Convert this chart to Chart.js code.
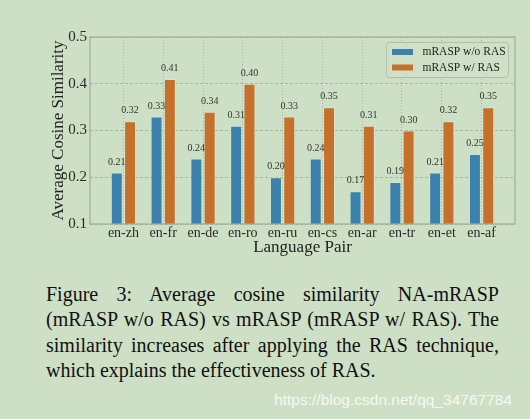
<!DOCTYPE html>
<html>
<head>
<meta charset="utf-8">
<script src="https://cdn.jsdelivr.net/npm/chart.js@4/dist/chart.umd.min.js"></script>
<style>
    html, body { margin: 0; padding: 0; }
    body {
        width: 530px; height: 419px; overflow: hidden;
        background: #cddfc4; position: relative;
    }
    #wrap { position: absolute; left: 0; top: 0; width: 530px; height: 262px; }
    #caption {
        position: absolute; left: 46px; top: 282px; width: 453px;
        font-family: 'Liberation Serif', 'Times New Roman', serif;
        font-size: 20px; line-height: 25.3px; color: #111;
        text-align: justify;
    }
    #watermark {
        position: absolute; left: 250px; width: 262px; top: 391px;
        text-align: right; line-height: 18px;
        font-family: 'Liberation Sans', Arial, sans-serif;
        font-size: 15.5px; color: rgba(255,255,255,0.8);
    }
</style>
</head>
<body>
<div id="wrap"><canvas id="chart" width="530" height="262"></canvas></div>
<div id="caption">Figure 3: Average cosine similarity NA-mRASP (mRASP w/o RAS) vs mRASP (mRASP w/ RAS). The similarity increases after applying the RAS technique, which explains the effectiveness of RAS.</div>
<div id="watermark">https://blog.csdn.net/qq_34767784</div>

<script>
// =========================================================
// Data
// =========================================================

const pairs  = ['en-zh', 'en-fr', 'en-de', 'en-ro', 'en-ru', 'en-cs', 'en-ar', 'en-tr', 'en-et', 'en-af'];
const woRas  = [0.21, 0.33, 0.24, 0.31, 0.20, 0.24, 0.17, 0.19, 0.21, 0.25];
const wRas   = [0.32, 0.41, 0.34, 0.40, 0.33, 0.35, 0.31, 0.30, 0.32, 0.35];
const yTicks = [0.1, 0.2, 0.3, 0.4, 0.5];

const SERIF  = "'Liberation Serif', 'Times New Roman', serif";
const BLUE   = '#3a81ab';
const ORANGE = '#c5712c';
const GRID   = '#a9b4a2';

// =========================================================
// Plugins: plot frame, value labels, legend box
// =========================================================

const frame = {
    id: 'frame',
    afterDraw(chart) {
        const { ctx, chartArea: a } = chart;
        ctx.save();
        ctx.strokeStyle = '#a3ae9c';
        ctx.lineWidth = 1.2;
        ctx.strokeRect(a.left, a.top, a.right - a.left, a.bottom - a.top);
        ctx.restore();
    }
};

const valueLabels = {
    id: 'valueLabels',
    afterDatasetsDraw(chart) {
        const ctx = chart.ctx;
        ctx.save();
        ctx.font = '10px ' + SERIF;
        ctx.fillStyle = '#333';
        ctx.textAlign = 'center';
        ctx.textBaseline = 'middle';
        chart.data.datasets.forEach((ds, di) => {
            chart.getDatasetMeta(di).data.forEach((bar, i) => {
                ctx.fillText(ds.data[i].y.toFixed(2), bar.x, bar.y - 10.5);
            });
        });
        ctx.restore();
    }
};

const legendBox = {
    id: 'legendBox',
    afterDraw(chart) {
        const { ctx, chartArea: a } = chart;
        const w = 122, h = 35;
        const x = a.right - 6.5 - w, y = a.top + 5.5;
        ctx.save();
        ctx.beginPath();
        ctx.roundRect(x, y, w, h, 3);
        ctx.fillStyle = 'rgba(208,224,199,0.85)';
        ctx.fill();
        ctx.strokeStyle = '#b3bfac';
        ctx.lineWidth = 1;
        ctx.stroke();

        ctx.font = '11.5px ' + SERIF;
        ctx.textBaseline = 'middle';
        chart.data.datasets.forEach((ds, i) => {
            const cy = y + 9.5 + i * 15.5;
            ctx.fillStyle = ds.backgroundColor;
            ctx.fillRect(x + 5.5, cy - 3, 21, 6);
            ctx.fillStyle = '#222';
            ctx.fillText(ds.label, x + 36, cy);
        });
        ctx.restore();
    }
};

// =========================================================
// Chart
// =========================================================

new Chart(document.getElementById('chart'), {
    type: 'bar',
    data: {
        datasets: [
            { label: 'mRASP w/o RAS', data: woRas.map((v, i) => ({ x: i, y: v })),
              backgroundColor: BLUE, borderColor: 'rgba(225,235,225,0.45)', borderWidth: 1 },
            { label: 'mRASP w/ RAS',  data: wRas.map((v, i) => ({ x: i, y: v })),
              backgroundColor: ORANGE, borderColor: 'rgba(225,235,225,0.45)', borderWidth: 1 },
        ]
    },
    options: {
        responsive: false,
        animation: false,
        layout: { padding: { left: 40, right: 15, top: 37, bottom: 0 } },
        categoryPercentage: 0.668,
        barPercentage: 0.9,
        plugins: { legend: { display: false }, tooltip: { enabled: false } },
        scales: {
            x: {
                type: 'linear',
                offset: false,
                min: -0.84, max: 9.84,
                afterFit: s => { s.height = 38; },
                grid: { color: GRID, lineWidth: 1, drawTicks: false, offset: false },
                border: { display: false, dash: [1, 2] },
                ticks: {
                    stepSize: 1, includeBounds: false, padding: 1, autoSkip: false,
                    color: '#2a2a2a', font: { family: SERIF, size: 14 },
                    callback: v => pairs[v] ?? '',
                },
                title: { display: true, text: 'Language Pair', color: '#222',
                         font: { family: SERIF, size: 17 }, padding: { top: 0, bottom: 4 } },
            },
            y: {
                min: yTicks[0], max: yTicks[yTicks.length - 1],
                afterFit: s => { s.width = 50; },
                afterBuildTicks: s => { s.ticks = yTicks.map(v => ({ value: v })); },
                grid: { color: GRID, lineWidth: 1, drawTicks: false },
                border: { display: false, dash: [3, 2] },
                ticks: { padding: 3, color: '#2a2a2a', font: { family: SERIF, size: 15 },
                         callback: v => v.toFixed(1) },
                title: { display: true, text: 'Average Cosine Similarity', color: '#222',
                         font: { family: SERIF, size: 17 }, padding: { top: 8, bottom: 0 } },
            },
        },
    },
    plugins: [frame, valueLabels, legendBox],
});
</script>
</body>
</html>
